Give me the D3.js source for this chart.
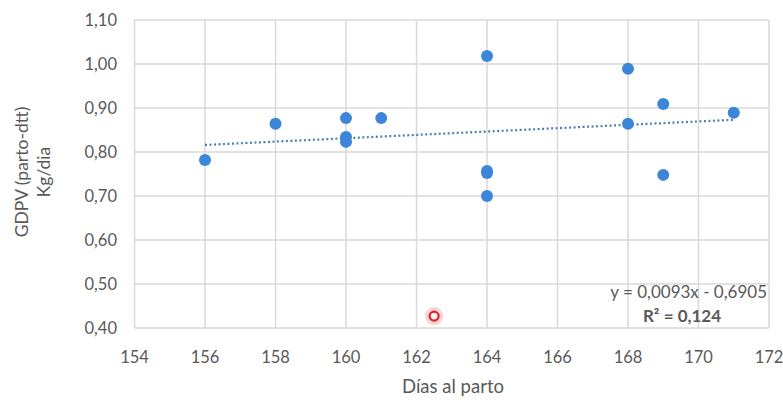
<!DOCTYPE html>
<html><head><meta charset="utf-8">
<script src="https://cdn.jsdelivr.net/npm/d3@7"></script>
<style>body{margin:0;background:#fff}svg{display:block}</style>
</head><body>
<svg id="c" width="783" height="403"></svg>
<script>
const diasParto = [156, 158, 160, 160, 160, 161, 164, 164, 164, 164, 168, 168, 169, 169, 171];
const gdpv      = [0.782, 0.864, 0.877, 0.834, 0.823, 0.877, 1.018, 0.757, 0.752, 0.700, 0.989, 0.864, 0.909, 0.748, 0.889];
const outlierX = [162.5];
const outlierY = [0.427];
const xTicks = [154, 156, 158, 160, 162, 164, 166, 168, 170, 172];
const yTicks = [0.40, 0.50, 0.60, 0.70, 0.80, 0.90, 1.00, 1.10];
const eqLabel = "y = 0,0093x - 0,6905";
const r2Label = "R² = 0,124";

const svg = d3.select("#c");
const m = {l:134.5, r:769, t:20, b:328};
const x = d3.scaleLinear().domain([154,172]).range([m.l, m.r]);
const y = d3.scaleLinear().domain([0.40,1.10]).range([m.b, m.t]);
const font = "Lato, 'Open Sans', sans-serif";
const grey = "#595959";

// grid
const g = svg.append("g");
g.selectAll(".h").data(yTicks).join("line")
  .attr("x1", m.l).attr("x2", m.r).attr("y1", d=>y(d)).attr("y2", d=>y(d))
  .attr("stroke", "#d9d9d9").attr("stroke-width", 1.5);
g.selectAll(".v").data(xTicks).join("line")
  .attr("y1", m.t).attr("y2", m.b).attr("x1", d=>x(d)).attr("x2", d=>x(d))
  .attr("stroke", "#d9d9d9").attr("stroke-width", 1.5);

// axes labels
const fmt = d3.format(".2f");
svg.append("g").selectAll("text").data(yTicks).join("text")
  .attr("x", 117).attr("y", d=>y(d)).attr("dy", "0.35em")
  .attr("text-anchor", "end").attr("font-family", font).attr("font-size", 16.5)
  .attr("fill", grey).text(d=>fmt(d).replace(".", ","));
svg.append("g").selectAll("text").data(xTicks).join("text")
  .attr("x", d=>x(d)).attr("y", 357).attr("dy", "0.35em")
  .attr("text-anchor", "middle").attr("font-family", font).attr("font-size", 16.5)
  .attr("fill", grey).text(d=>d);

svg.append("text").attr("x", 453).attr("y", 387).attr("dy","0.35em")
  .attr("text-anchor","middle").attr("font-family", font).attr("font-size", 18.5)
  .attr("fill", grey).text("Días al parto");
const yt = svg.append("text").attr("transform","translate(0,172) rotate(-90)")
  .attr("text-anchor","middle").attr("font-family", font).attr("font-size", 17.5).attr("fill", grey);
yt.append("tspan").attr("x",0).attr("y",28).text("GDPV (parto-dtt)");
yt.append("tspan").attr("x",0).attr("y",50).text("Kg/dia");

// trend line (least squares over blue points)
const n = diasParto.length;
const mx = d3.mean(diasParto), my = d3.mean(gdpv);
let sxy = 0, sxx = 0;
for (let i=0;i<n;i++){ sxy += (diasParto[i]-mx)*(gdpv[i]-my); sxx += (diasParto[i]-mx)**2; }
const slope = sxy/sxx, icpt = my - slope*mx;
const x0 = d3.min(diasParto), x1 = d3.max(diasParto);
svg.append("line")
  .attr("x1", x(x0)).attr("y1", y(icpt+slope*x0))
  .attr("x2", x(x1)).attr("y2", y(icpt+slope*x1))
  .attr("stroke", "#4a7fb5").attr("stroke-width", 2.2)
  .attr("stroke-dasharray", "2,2.5");

// points
svg.append("g").selectAll("circle").data(diasParto.map((d,i)=>[d,gdpv[i]])).join("circle")
  .attr("cx", d=>x(d[0])).attr("cy", d=>y(d[1])).attr("r", 6)
  .attr("fill", "#3d85d8");

// outlier
const oc = outlierX.map((d,i)=>[d,outlierY[i]]);
svg.append("g").selectAll("circle").data(oc).join("circle")
  .attr("cx", d=>x(d[0])).attr("cy", d=>y(d[1])).attr("r", 9)
  .attr("fill", "#f9c9c9").attr("opacity", 0.8);
svg.append("g").selectAll("circle").data(oc).join("circle")
  .attr("cx", d=>x(d[0])).attr("cy", d=>y(d[1])).attr("r", 4.5)
  .attr("fill", "#fff0f0").attr("stroke", "#e0202a").attr("stroke-width", 2.2);

// equation labels
svg.append("text").attr("x", 767).attr("y", 292).attr("dy","0.35em")
  .attr("text-anchor","end").attr("font-family", font).attr("font-size", 17)
  .attr("fill", grey).text(eqLabel);
svg.append("text").attr("x", 682).attr("y", 316).attr("dy","0.35em")
  .attr("text-anchor","middle").attr("font-family", font).attr("font-size", 17)
  .attr("font-weight","bold").attr("fill", grey).text(r2Label);
</script>
</body></html>
